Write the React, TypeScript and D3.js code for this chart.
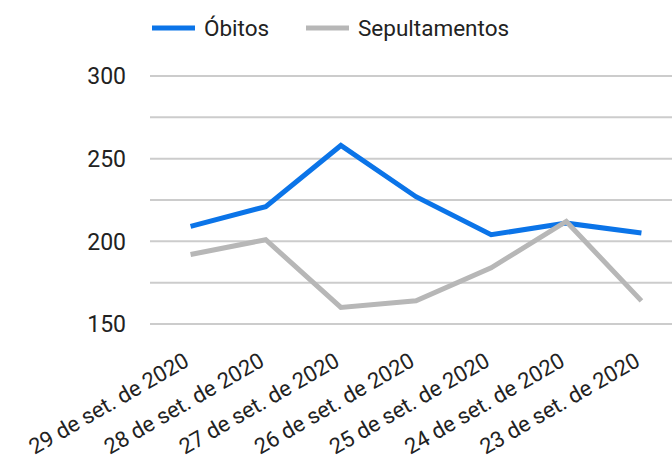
import React from "react";
import * as d3 from "d3";

const categories = [
  "29 de set. de 2020",
  "28 de set. de 2020",
  "27 de set. de 2020",
  "26 de set. de 2020",
  "25 de set. de 2020",
  "24 de set. de 2020",
  "23 de set. de 2020",
];
const obitos = [209, 221, 258, 227, 204, 211, 205];
const sepultamentos = [192, 201, 160, 164, 184, 212, 164];
const gridTicks = [150, 175, 200, 225, 250, 275, 300];
const labelTicks = [150, 200, 250, 300];

const W = 672;
const H = 460;
const FONT = "Roboto, 'Noto Sans', sans-serif";

export default function App() {
  const x = d3.scaleBand<string>().domain(categories).range([153, 679]);
  const y = d3.scaleLinear().domain([150, 300]).range([324, 76]);
  const cx = (c: string) => (x(c) as number) + x.bandwidth() / 2;
  const line = d3
    .line<number>()
    .x((_, i) => cx(categories[i]))
    .y((d) => y(d));

  const series = [
    { name: "Óbitos", values: obitos, color: "#0b74e8" },
    { name: "Sepultamentos", values: sepultamentos, color: "#b7b7b7" },
  ];

  return (
    <svg
      width={W}
      height={H}
      style={{ position: "absolute", left: 0, top: 0, background: "#fff" }}
      fontFamily={FONT}
    >
      <rect width={W} height={H} fill="#fff" />
      {gridTicks.map((t) => (
        <line key={t} x1={150} x2={W} y1={y(t)} y2={y(t)} stroke="#cccccc" strokeWidth={2} />
      ))}
      {labelTicks.map((t) => (
        <text
          key={t}
          x={126}
          y={y(t)}
          dy="0.36em"
          textAnchor="end"
          fontSize={23}
          fill="#222"
        >
          {t}
        </text>
      ))}
      {series.map((s) => (
        <path
          key={s.name}
          d={line(s.values) || ""}
          fill="none"
          stroke={s.color}
          strokeWidth={5}
          strokeLinejoin="miter"
        />
      ))}
      {categories.map((c) => (
        <text
          key={c}
          transform={`translate(${cx(c)},365) rotate(-30)`}
          textAnchor="end"
          fontSize={22}
          fill="#222"
        >
          {c}
        </text>
      ))}
      <g>
        <line x1={152} x2={195} y1={28} y2={28} stroke={series[0].color} strokeWidth={5} />
        <text x={204} y={28} dy="0.36em" fontSize={22.5} fill="#222">
          {series[0].name}
        </text>
        <line x1={306} x2={349} y1={28} y2={28} stroke={series[1].color} strokeWidth={5} />
        <text x={358} y={28} dy="0.36em" fontSize={22.5} fill="#222">
          {series[1].name}
        </text>
      </g>
    </svg>
  );
}
